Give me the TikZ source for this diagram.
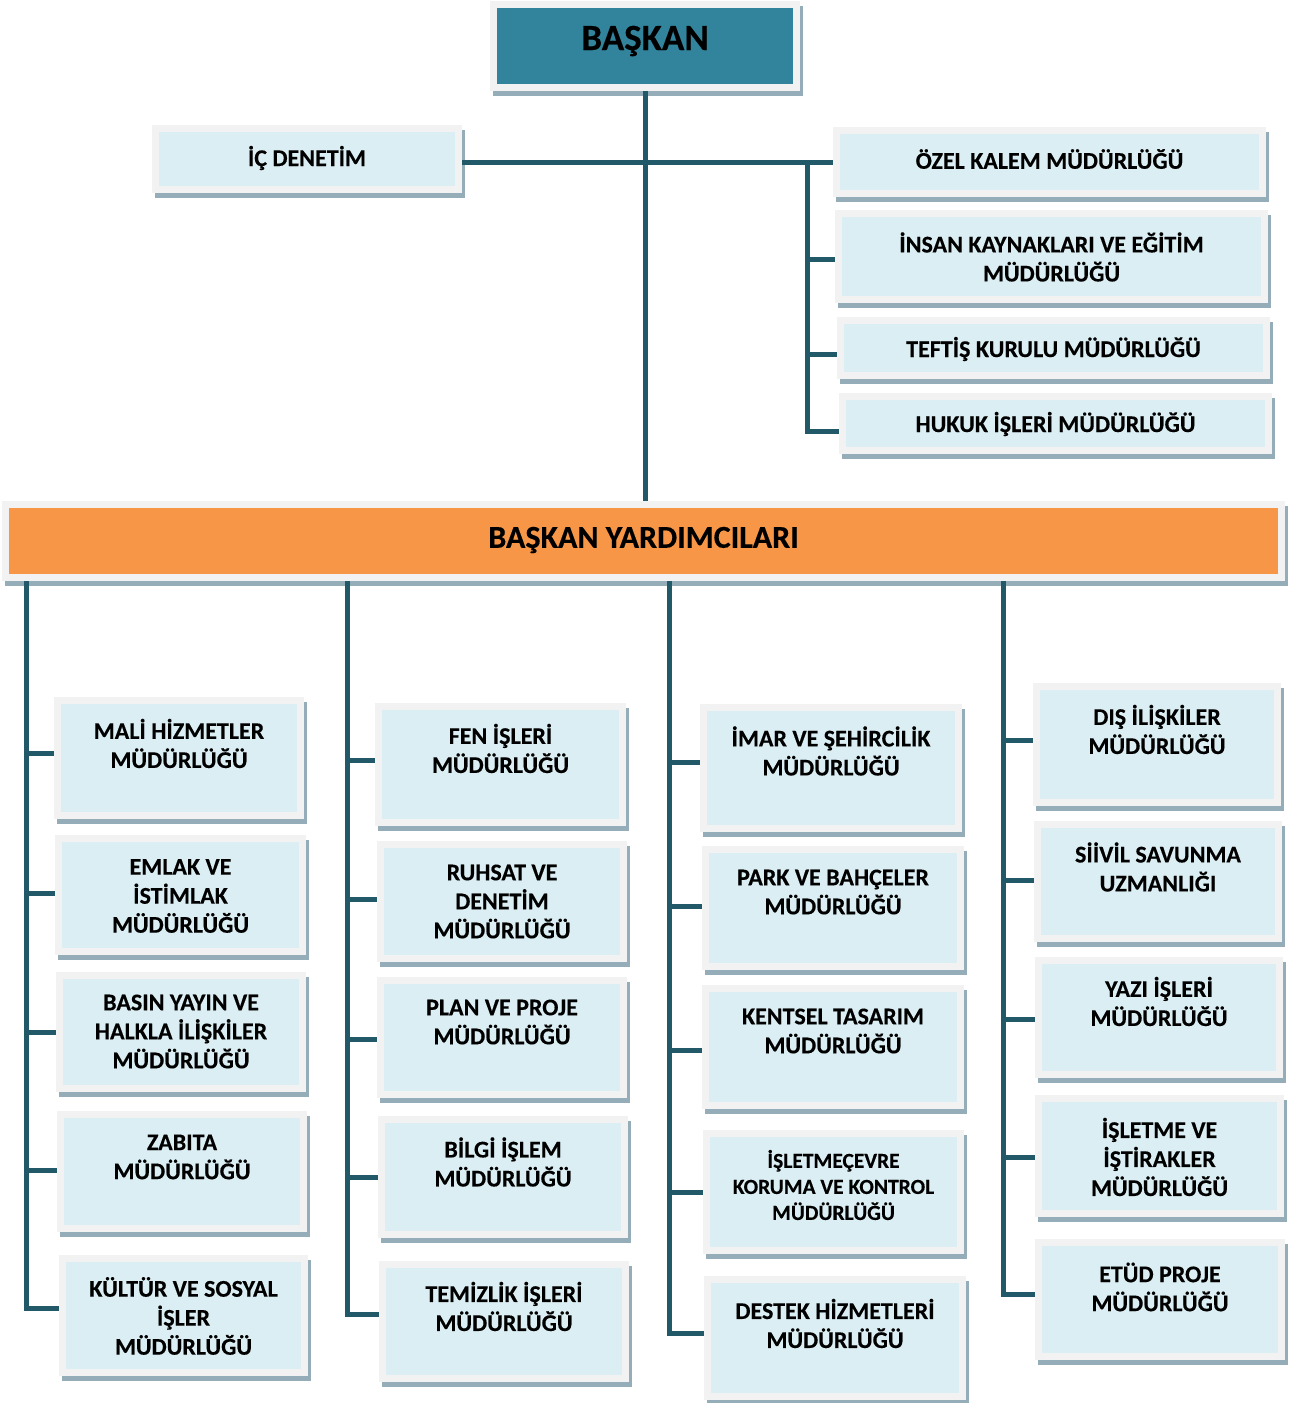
\documentclass[tikz,border=0pt]{standalone}
\usepackage{fontspec}
\setmainfont{Carlito}[BoldFeatures={FakeBold=0.3}]
\usetikzlibrary{fit}
\definecolor{shadowc}{HTML}{95ADB8}
\definecolor{framec}{HTML}{F2F2F2}
\definecolor{inboxc}{HTML}{DAEEF3}
\definecolor{tealc}{HTML}{31849B}
\definecolor{orangec}{HTML}{F79646}
\definecolor{linec}{HTML}{215968}
\newcommand{\curfont}{\bfseries\fontsize{24}{29}\selectfont}
\newcommand{\orgbox}[8][inboxc]{%
  \fill[shadowc] ({#3+3},{#4+5}) rectangle ({#5+3},{#6+5});
  \fill[framec] (#3,#4) rectangle (#5,#6);
  \fill[#1] ({#3+7},{#4+7}) rectangle ({#5-7},{#6-7});
  \node[fit={(#3,#4) (#5,#6)}, inner sep=0pt] (#2) {};
  \node[lbl] (#2-t) at ({(#3+#5)/2},#7) {#8};
}
\newcommand{\branch}[3]{%
  \coordinate (#2-b) at ([yshift=#3pt]#2.west);
  \draw[conn] (#1 |- #2-b) -- (#2-b);
}
\begin{document}
\begin{tikzpicture}[x=1pt,y=-1pt,
  conn/.style={draw=linec, line width=5pt},
  lbl/.style={inner sep=0pt, align=center, font=\curfont, text=black}]
\useasboundingbox[fill=white] (0,0) rectangle (1295,1403);

% top
\renewcommand{\curfont}{\bfseries\fontsize{37}{44}\selectfont}
\orgbox[tealc]{baskan}{490}{1}{800}{91}{41}{BAŞKAN}
\renewcommand{\curfont}{\bfseries\fontsize{24}{29}\selectfont}
\orgbox{icdenetim}{152}{125}{462}{193}{158}{İÇ DENETİM}
\orgbox{ozel}{833}{127}{1266}{197}{159}{ÖZEL KALEM MÜDÜRLÜĞÜ}
\orgbox{insan}{835}{210}{1268}{303}{257}{İNSAN KAYNAKLARI VE EĞİTİM\\MÜDÜRLÜĞÜ}
\orgbox{teftis}{837}{317}{1270}{379}{349}{TEFTİŞ KURULU MÜDÜRLÜĞÜ}
\orgbox{hukuk}{839}{393}{1272}{454}{424}{HUKUK İŞLERİ MÜDÜRLÜĞÜ}
\renewcommand{\curfont}{\bfseries\fontsize{32}{38}\selectfont}
\orgbox[orangec]{yrd}{2}{501}{1285}{581}{540}{BAŞKAN YARDIMCILARI}
\renewcommand{\curfont}{\bfseries\fontsize{24}{29}\selectfont}

% column 1
\orgbox{mali}{54}{697}{304}{819}{743.5}{MALİ HİZMETLER\\MÜDÜRLÜĞÜ}
\orgbox{emlak}{55}{835}{306}{955}{896}{EMLAK VE\\İSTİMLAK\\MÜDÜRLÜĞÜ}
\orgbox{basin}{56}{972}{306}{1092}{1031.5}{BASIN YAYIN VE\\HALKLA İLİŞKİLER\\MÜDÜRLÜĞÜ}
\orgbox{zabita}{57}{1111}{307}{1232}{1157}{ZABITA\\MÜDÜRLÜĞÜ}
\orgbox{kultur}{59}{1255}{308}{1376}{1316}{KÜLTÜR VE SOSYAL\\İŞLER\\MÜDÜRLÜĞÜ}

% column 2
\orgbox{fen}{375}{703}{626}{826}{748.5}{FEN İŞLERİ\\MÜDÜRLÜĞÜ}
\orgbox{ruhsat}{377}{841}{627}{962}{901.5}{RUHSAT VE\\DENETİM\\MÜDÜRLÜĞÜ}
\orgbox{plan}{377}{977}{627}{1098}{1022}{PLAN VE PROJE\\MÜDÜRLÜĞÜ}
\orgbox{bilgi}{378}{1116}{628}{1238}{1162}{BİLGİ İŞLEM\\MÜDÜRLÜĞÜ}
\orgbox{temizlik}{379}{1261}{629}{1382}{1306.5}{TEMİZLİK İŞLERİ\\MÜDÜRLÜĞÜ}

% column 3
\orgbox{imar}{700}{704}{962}{832}{751}{İMAR VE ŞEHİRCİLİK\\MÜDÜRLÜĞÜ}
\orgbox{park}{702}{846}{964}{970}{892}{PARK VE BAHÇELER\\MÜDÜRLÜĞÜ}
\orgbox{kentsel}{702}{985}{964}{1109}{1031}{KENTSEL TASARIM\\MÜDÜRLÜĞÜ}
\renewcommand{\curfont}{\bfseries\fontsize{21.5}{26}\selectfont}
\orgbox{cevre}{703}{1130}{964}{1254}{1185}{İŞLETMEÇEVRE\\KORUMA VE KONTROL\\MÜDÜRLÜĞÜ}
\renewcommand{\curfont}{\bfseries\fontsize{24}{29}\selectfont}
\orgbox{destek}{704}{1276}{966}{1400}{1323.5}{DESTEK HİZMETLERİ\\MÜDÜRLÜĞÜ}

% column 4
\orgbox{dis}{1033}{683}{1281}{806}{729.5}{DIŞ İLİŞKİLER\\MÜDÜRLÜĞÜ}
\orgbox{sivil}{1034}{821}{1282}{942}{867}{SİİVİL SAVUNMA\\UZMANLIĞI}
\orgbox{yazi}{1035}{957}{1283}{1078}{1001.5}{YAZI İŞLERİ\\MÜDÜRLÜĞÜ}
\orgbox{isletme}{1035}{1095}{1284}{1217}{1157}{İŞLETME VE\\İŞTİRAKLER\\MÜDÜRLÜĞÜ}
\orgbox{etud}{1035}{1239}{1285}{1360}{1287}{ETÜD PROJE\\MÜDÜRLÜĞÜ}

% connectors: top
\draw[conn] (baskan.south) -- (baskan.south |- yrd.north);
\coordinate (ozel-b) at (ozel.west);
\draw[conn] (icdenetim.east |- ozel-b) -- (ozel-b);
\coordinate (rtop) at (807,162);
\coordinate (hukuk-b) at ([yshift=-7.5pt]hukuk.west);
\draw[conn] (rtop) |- (hukuk-b);
\branch{rtop}{insan}{-2.5}
\branch{rtop}{teftis}{-6}

% connectors: columns
\coordinate (c1) at (26,581);
\coordinate (c2) at (347,581);
\coordinate (c3) at (669,581);
\coordinate (c4) at (1003,581);

\branch{c1}{mali}{5}
\branch{c1}{emlak}{2}
\branch{c1}{basin}{0}
\branch{c1}{zabita}{1.5}
\coordinate (kultur-b) at ([yshift=7.5pt]kultur.west);
\draw[conn] (c1) |- (kultur-b);

\branch{c2}{fen}{4.5}
\branch{c2}{ruhsat}{2.5}
\branch{c2}{plan}{-1.5}
\branch{c2}{bilgi}{0}
\coordinate (temizlik-b) at ([yshift=7.5pt]temizlik.west);
\draw[conn] (c2) |- (temizlik-b);

\branch{c3}{imar}{6}
\branch{c3}{park}{2}
\branch{c3}{kentsel}{-3}
\branch{c3}{cevre}{0}
\coordinate (destek-b) at ([yshift=5pt]destek.west);
\draw[conn] (c3) |- (destek-b);

\branch{c4}{dis}{4.5}
\branch{c4}{sivil}{1.5}
\branch{c4}{yazi}{-1.5}
\branch{c4}{isletme}{-1}
\coordinate (etud-b) at ([yshift=5.5pt]etud.west);
\draw[conn] (c4) |- (etud-b);
\end{tikzpicture}
\end{document}
